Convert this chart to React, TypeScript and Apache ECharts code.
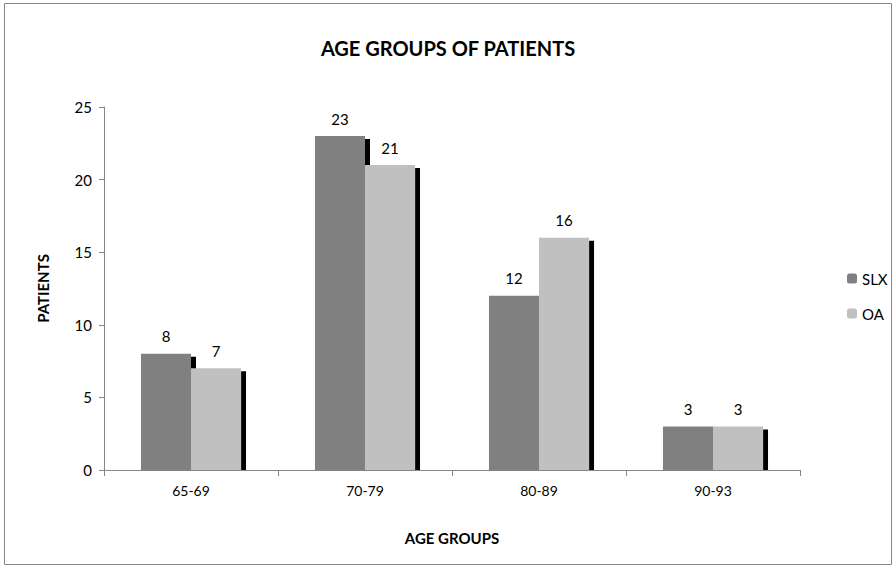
import React, { useEffect, useRef } from "react";
import * as echarts from "echarts";

const categories = ["65-69", "70-79", "80-89", "90-93"];
const slxValues = [8, 23, 12, 3];
const oaValues = [7, 21, 16, 3];
const yTicks = { min: 0, max: 25, interval: 5 };

const FONT = "Lato, 'Open Sans', sans-serif";

export default function App() {
  const ref = useRef<HTMLDivElement>(null);
  useEffect(() => {
    const chart = echarts.init(ref.current!, null, { renderer: "svg" });
    const shadow = {
      shadowColor: "#000",
      shadowBlur: 0,
      shadowOffsetX: 5,
      shadowOffsetY: 3,
    };
    const label = {
      show: true,
      position: "top",
      distance: 10,
      color: "#000",
      fontSize: 15,
      fontFamily: FONT,
    };
    chart.setOption({
      animation: false,
      backgroundColor: "#fff",
      title: {
        text: "AGE GROUPS OF PATIENTS",
        left: "center",
        top: 33,
        textStyle: { fontSize: 20, fontWeight: "bold", color: "#000", fontFamily: FONT },
      },
      legend: {
        orient: "vertical",
        left: 842,
        top: 266,
        itemWidth: 10,
        itemHeight: 10,
        itemGap: 20,
        textStyle: { fontSize: 15, color: "#000", fontFamily: FONT },
        itemStyle: { shadowBlur: 0, shadowOffsetX: 0, shadowOffsetY: 0, shadowColor: "transparent" },
        data: ["SLX", "OA"],
      },
      grid: { left: 104, right: 96, top: 107, bottom: 98 },
      xAxis: {
        type: "category",
        data: categories,
        z: 10,
        name: "AGE GROUPS",
        nameLocation: "middle",
        nameGap: 60,
        nameTextStyle: { fontSize: 15, fontWeight: "bold", color: "#000", fontFamily: FONT },
        axisLine: { lineStyle: { color: "#868686" } },
        axisTick: { show: true, length: 6, lineStyle: { color: "#868686" } },
        axisLabel: { margin: 13, fontSize: 14, color: "#000", fontFamily: FONT },
      },
      yAxis: {
        type: "value",
        min: yTicks.min,
        max: yTicks.max,
        interval: yTicks.interval,
        z: 10,
        name: "PATIENTS",
        nameLocation: "middle",
        nameGap: 54,
        nameRotate: 90,
        nameTextStyle: { fontSize: 15, fontWeight: "bold", color: "#000", fontFamily: FONT },
        splitLine: { show: false },
        axisLine: { show: true, lineStyle: { color: "#868686" } },
        axisTick: { show: true, length: 5, lineStyle: { color: "#868686" } },
        axisLabel: { margin: 12, fontSize: 15, color: "#000", fontFamily: FONT },
      },
      graphic: [
        {
          type: "rect",
          z: 5,
          silent: true,
          shape: { x: 105, y: 471, width: 695, height: 4 },
          style: { fill: "#fff" },
        },
        {
          type: "rect",
          z: 0,
          silent: true,
          shape: { x: 4.5, y: 3.5, width: 887, height: 561 },
          style: { fill: "none", stroke: "#868686", lineWidth: 1 },
        },
      ],
      series: [
        {
          name: "SLX",
          type: "bar",
          data: slxValues,
          barGap: "0%",
          barCategoryGap: "42.5%",
          itemStyle: { color: "#808080", ...shadow },
          label,
        },
        {
          name: "OA",
          type: "bar",
          data: oaValues,
          barGap: "0%",
          barCategoryGap: "42.5%",
          itemStyle: { color: "#c0c0c0", ...shadow },
          label,
        },
      ],
    });
    return () => chart.dispose();
  }, []);
  return (
    <div
      ref={ref}
      style={{ position: "fixed", left: 0, top: 0, width: 896, height: 568 }}
    />
  );
}
